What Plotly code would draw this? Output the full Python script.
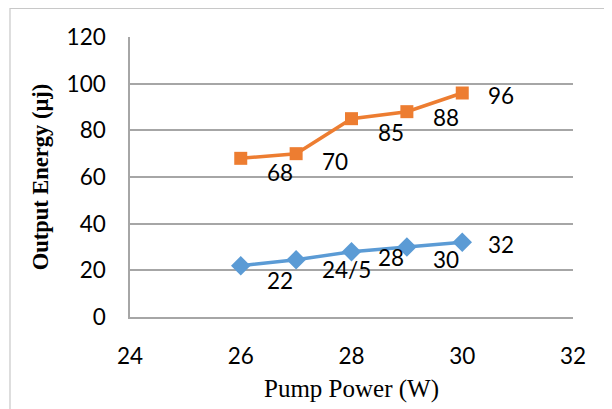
import plotly.graph_objects as go

pump_power = [26, 27, 28, 29, 30]
energy_orange = [68, 70, 85, 88, 96]
energy_blue = [22, 24.5, 28, 30, 32]
labels_orange = ["68", "70", "85", "88", "96"]
labels_blue = ["22", "24/5", "28", "30", "32"]
x_ticks = [24, 26, 28, 30, 32]
y_ticks = [0, 20, 40, 60, 80, 100, 120]

# label vertical offsets (pixels, downward) as placed in the reference
off_orange = [14, 8, 14, 6, 2]
off_blue = [15, 10, 6, 12, 2]

ORANGE = "#ED7D31"
BLUE = "#5B9BD5"
GRID = "#a6a6a6"
NUMFONT = "Lato"

fig = go.Figure()
fig.add_trace(go.Scatter(
    x=pump_power, y=energy_blue, mode="lines+markers",
    line=dict(color=BLUE, width=3.5),
    marker=dict(symbol="diamond", size=15, color=BLUE),
    showlegend=False, cliponaxis=False))
fig.add_trace(go.Scatter(
    x=pump_power, y=energy_orange, mode="lines+markers",
    line=dict(color=ORANGE, width=3.5),
    marker=dict(symbol="square", size=13, color=ORANGE),
    showlegend=False, cliponaxis=False))

annotations = []
for xs, ys, labs, offs in [(pump_power, energy_orange, labels_orange, off_orange),
                           (pump_power, energy_blue, labels_blue, off_blue)]:
    for xv, yv, t, o in zip(xs, ys, labs, offs):
        annotations.append(dict(x=xv, y=yv, text=t, showarrow=False,
                                xanchor="left", yanchor="middle",
                                xshift=24, yshift=-o,
                                font=dict(family=NUMFONT, size=22.5, color="#000000")))

fig.update_layout(
    width=612, height=409,
    margin=dict(l=122, r=47, t=29, b=100),
    paper_bgcolor="white", plot_bgcolor="white",
    annotations=annotations,
    shapes=[dict(type="rect", xref="paper", yref="paper",
                 x0=-0.2709, x1=1.3, y0=-0.5, y1=1.1018,
                 line=dict(color="#c8c8c8", width=1.2), fillcolor="rgba(0,0,0,0)",
                 layer="below")],
)
fig.update_xaxes(
    range=[24, 32], tickvals=x_ticks, ticktext=[str(v) for v in x_ticks],
    showgrid=False, zeroline=False, showline=True, linecolor=GRID, linewidth=1.5,
    ticks="", ticklabelstandoff=18,
    tickfont=dict(family=NUMFONT, size=22.5, color="#000000"),
    title=dict(text="Pump Power (W)", standoff=12,
               font=dict(family="Liberation Serif", size=25, color="#000000")))
fig.update_yaxes(
    range=[0, 120], tickvals=y_ticks, ticktext=[str(v) for v in y_ticks],
    showgrid=True, gridcolor=GRID, gridwidth=1.5, zeroline=False,
    showline=True, linecolor=GRID, linewidth=1.5,
    ticks="", ticklabelstandoff=18,
    tickfont=dict(family=NUMFONT, size=22.5, color="#000000"),
    title=dict(text="<b>Output Energy (µj)</b>", standoff=12,
               font=dict(family="Liberation Serif", size=22.5, color="#000000")))

fig.write_html("out.html")
